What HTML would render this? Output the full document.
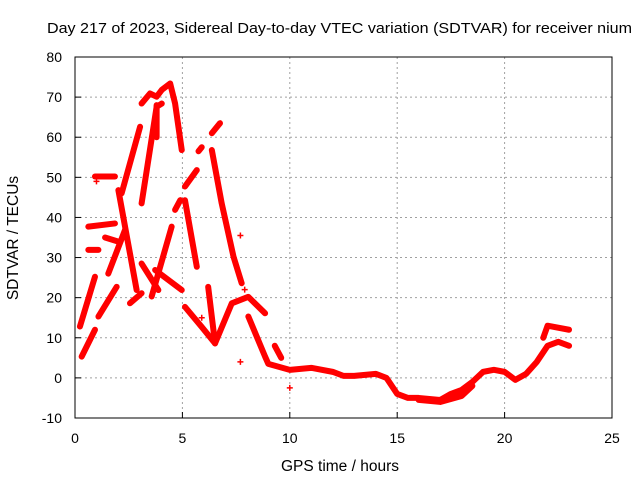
<!DOCTYPE html>
<html><head><meta charset="utf-8"><style>
body{margin:0;background:#fff}
svg{display:block;font-family:"Liberation Sans",sans-serif}
</style></head><body>
<svg id="c" width="640" height="480">
<text x="47" y="33" textLength="585" lengthAdjust="spacingAndGlyphs" font-size="15">Day 217 of 2023, Sidereal Day-to-day VTEC variation (SDTVAR) for receiver nium</text>
<text x="340" y="471" text-anchor="middle" font-size="15.5">GPS time / hours</text>
<text transform="translate(18,238) rotate(-90)" text-anchor="middle" font-size="15.5">SDTVAR / TECUs</text>
<g id="grid"></g><g id="ticks"></g><g id="series"></g>
<rect x="75" y="57" width="537" height="361" fill="none" stroke="#000" stroke-width="1"/>
</svg>
<script>
const xTicks=[0,5,10,15,20,25];
const yTicks=[-10,0,10,20,30,40,50,60,70,80];
const tracks=[
[[0.23,12.8],[0.93,25.2]],
[[0.31,5.3],[0.93,12]],
[[1.09,15.3],[1.94,22.7]],
[[2.56,18.6],[3.1,21.1]],
[[2.02,46.8],[2.87,21.9]],
[[1.55,26],[2.33,36.9]],
[[2.17,46],[3.03,62.6]],
[[3.1,43.5],[3.8,67.6],[4.04,68.4]],
[[3.1,68.4],[3.49,70.9],[3.8,70.1],[4.04,71.8],[4.43,73.4],[4.66,68.4],[4.97,56.8]],
[[3.8,68],[3.8,60]],
[[3.57,20.3],[4.5,37.7]],
[[3.1,28.5],[3.88,21.9]],
[[3.73,26.9],[4.97,21.9]],
[[6.37,61],[6.75,63.5]],
[[5.75,56.5],[5.9,57.5]],
[[5.12,47.7],[5.67,51.8]],
[[4.66,41.9],[4.9,44.3]],
[[5.12,44.3],[5.67,27.7]],
[[6.37,56.8],[6.83,43.5],[7.38,30.2],[7.76,23.6]],
[[5.12,17.7],[5.9,12.7],[6.52,8.6],[7.3,18.6],[8.07,20.2],[8.85,16.1]],
[[6.2,22.7],[6.52,8.6]],
[[8.07,15.3],[8.85,5.3],[9.0,3.5],[10,2],[11,2.5],[12,1.5],[12.5,0.5],[13,0.5],[14,1],[14.5,0],[15,-4],[15.5,-5],[16,-5],[17,-5.5],[17.5,-4],[18,-3],[18.5,-1],[19,1.5],[19.5,2],[20,1.5],[20.5,-0.5],[21,1],[21.5,4],[22,8],[22.5,9],[23,8]],
[[16,-5.5],[17,-6],[18,-4.5],[18.5,-2]],
[[21.8,10],[22,13],[23,12]],
[[9.3,8],[9.6,5]],
[[0.93,50.2],[1.86,50.2]],
[[0.62,37.7],[1.86,38.5]],
[[0.62,31.9],[1.09,31.9]],
[[1.4,35],[2.0,34]]
];
const outliers=[[10,-2.5],[7.7,4],[7.7,35.5],[1,49],[7.9,22],[5.9,15]];
const X=h=>75+h*21.48, Y=v=>57+(80-v)*4.011;
const NS="http://www.w3.org/2000/svg";
const g=document.getElementById('grid'),t=document.getElementById('ticks'),s=document.getElementById('series');
function mk(tag,at,p){const e=document.createElementNS(NS,tag);for(const k in at)e.setAttribute(k,at[k]);p.appendChild(e);return e;}
xTicks.forEach(v=>{
 if(v>0&&v<25){const l=mk('line',{x1:X(v),x2:X(v),y1:57,y2:418,stroke:'#a0a0a0','stroke-dasharray':'2,3'},g);
 
 }
 const tx=mk('text',{x:X(v),y:443,'text-anchor':'middle','font-size':14},t);tx.textContent=v;
 
 
 mk('line',{x1:X(v),x2:X(v),y1:418,y2:412,stroke:'#000'},t);
});
yTicks.forEach(v=>{
 if(v>-10&&v<80){const l=mk('line',{x1:75,x2:612,y1:Y(v),y2:Y(v),stroke:'#a0a0a0','stroke-dasharray':'2,3'},g);
 
 }
 const tx=mk('text',{x:62,y:Y(v)+5,'text-anchor':'end','font-size':14},t);tx.textContent=v;
 
 
 mk('line',{x1:75,x2:81,y1:Y(v),y2:Y(v),stroke:'#000'},t);
});
tracks.forEach(tr=>{
 const p=mk('polyline',{points:tr.map(d=>X(d[0])+','+Y(d[1])).join(' '),fill:'none',stroke:'#f00','stroke-width':6,'stroke-linejoin':'round','stroke-linecap':'round'},s);
 
 
});
outliers.forEach(d=>{
 const m=mk('path',{d:`M${X(d[0])-3},${Y(d[1])}h6M${X(d[0])},${Y(d[1])-3}v6`,stroke:'#f00','stroke-width':1.5},s);
 
 
});
</script>
</body></html>
